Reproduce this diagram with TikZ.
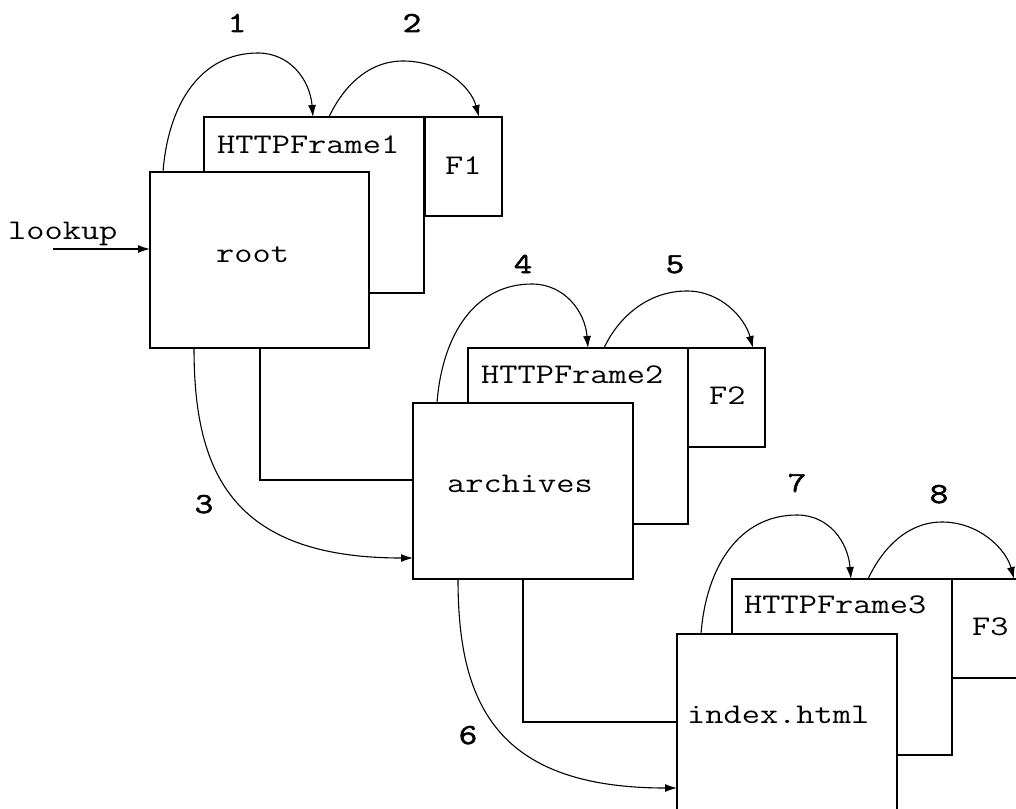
\documentclass[tikz,border=0pt]{standalone}
\usepackage{fontspec}
\setmonofont{Latin Modern Mono}[FakeStretch=1.24]
\newfontfamily\stepfont{Latin Modern Mono}[FakeStretch=1.24,FakeBold=1.8]
\usetikzlibrary{calc,arrows.meta}
\begin{document}
\begin{tikzpicture}[x=1pt,y=-1pt,
  page/.style={draw, line width=1.6pt, fill=white, inner sep=0pt, outer sep=0pt,
    anchor=north west, minimum width=220pt, minimum height=176pt},
  slot/.style={draw, line width=1.6pt, fill=white, inner sep=0pt, outer sep=0pt,
    anchor=north west, minimum width=77pt, minimum height=99pt},
  txt/.style={font=\ttfamily\fontsize{28.5}{34}\selectfont, inner sep=0pt, anchor=base west},
  num/.style={font=\stepfont\fontsize{29}{34}\selectfont, inner sep=0pt, anchor=base},
  flow/.style={line width=1.1pt, -{Latex[length=12pt,width=8pt]}},
  link/.style={line width=1.6pt}]
\useasboundingbox (0,0) rectangle (1016,808);
\clip (0,0) rectangle (1016,808);

% ---- root and its frame
\node[page] (hf1) at (204,117) {};
\node[slot] (f1) at (425,117) {};
\node[page, minimum width=219pt] (root) at (150,172) {};
\node[txt] (hf1t) at ($(hf1.north west)+(13,36)$) {HTTPFrame1};
\node[txt] (f1t) at ($(f1.north west)+(20,57)$) {F1};
\node[txt] (roott) at ($(root.north west)+(66,90)$) {root};

% ---- archives and its frame
\node[page] (hf2) at (468,348) {};
\node[slot] (f2) at (688,348) {};
\node[page] (archives) at (413,403) {};
\node[txt] (hf2t) at ($(hf2.north west)+(13,35)$) {HTTPFrame2};
\node[txt] (f2t) at ($(f2.north west)+(21,56)$) {F2};
\node[txt] (archivest) at ($(archives.north west)+(34,89)$) {archives};

% ---- index.html and its frame
\node[page] (hf3) at (732,579) {};
\node[slot] (f3) at (952,579) {};
\node[page] (index) at (677,634) {};
\node[txt] (hf3t) at ($(hf3.north west)+(12,34)$) {HTTPFrame3};
\node[txt] (f3t) at ($(f3.north west)+(20,56)$) {F3};
\node[txt] (indext) at ($(index.north west)+(10,89)$) {index.html};

% ---- entry
\node[txt] (lookup) at (8,239) {lookup};
\coordinate (entry) at (53,249);
\draw[flow] (entry) -- ($(root.north west)+(0,77)$);

% ---- calls into the frames
\draw[flow] ($(root.north west)+(13,0)$)
  .. controls +(5,-67) and +(-58,0) .. ++(95,-119)
  .. controls +(32,0) and +(-3,-37) .. ($(hf1.north west)+(109,0)$);
\draw[flow] ($(hf1.north west)+(125,0)$)
  .. controls +(14,-30) and +(-35,0) .. ++(74,-56)
  .. controls +(40,0) and +(-8,-30) .. ($(f1.north west)+(54,0)$);

\draw[flow] ($(archives.north west)+(24,0)$)
  .. controls +(5,-67) and +(-58,0) .. ++(95,-119)
  .. controls +(32,0) and +(-3,-37) .. ($(hf2.north west)+(120,0)$);
\draw[flow] ($(hf2.north west)+(136,0)$)
  .. controls +(14,-30) and +(-40,0) .. ++(83,-57)
  .. controls +(34,0) and +(-8,-30) .. ($(f2.north west)+(65,0)$);

\draw[flow] ($(index.north west)+(24,0)$)
  .. controls +(5,-67) and +(-58,0) .. ++(96,-119)
  .. controls +(32,0) and +(-3,-37) .. ($(hf3.north west)+(119,0)$);
\draw[flow] ($(hf3.north west)+(136,0)$)
  .. controls +(14,-30) and +(-35,0) .. ++(74,-57)
  .. controls +(37,0) and +(-8,-30) .. ($(f3.north west)+(62,0)$);

% ---- descent to the next level
\draw[link] ($(root.south west)+(110,0)$) |- ($(archives.north west)+(0,77)$);
\draw[flow] ($(root.south west)+(44,0)$)
  .. controls +(0,122) and +(-183,0) .. ($(archives.south west)+(0,-21)$);

\draw[link] ($(archives.south west)+(110,0)$) |- ($(index.north west)+(0,88)$);
\draw[flow] ($(archives.south west)+(45,0)$)
  .. controls +(0,122) and +(-183,0) .. ($(index.south west)+(0,-22)$);

% ---- step numbers
\node[num] (n1) at (237,32) {1};
\node[num] (n2) at (412,32) {2};
\node[num] (n3) at (204,513) {3};
\node[num] (n4) at (523,273) {4};
\node[num] (n5) at (675,273) {5};
\node[num] (n6) at (468,744) {6};
\node[num] (n7) at (797,492) {7};
\node[num] (n8) at (939,503) {8};
\end{tikzpicture}
\end{document}
